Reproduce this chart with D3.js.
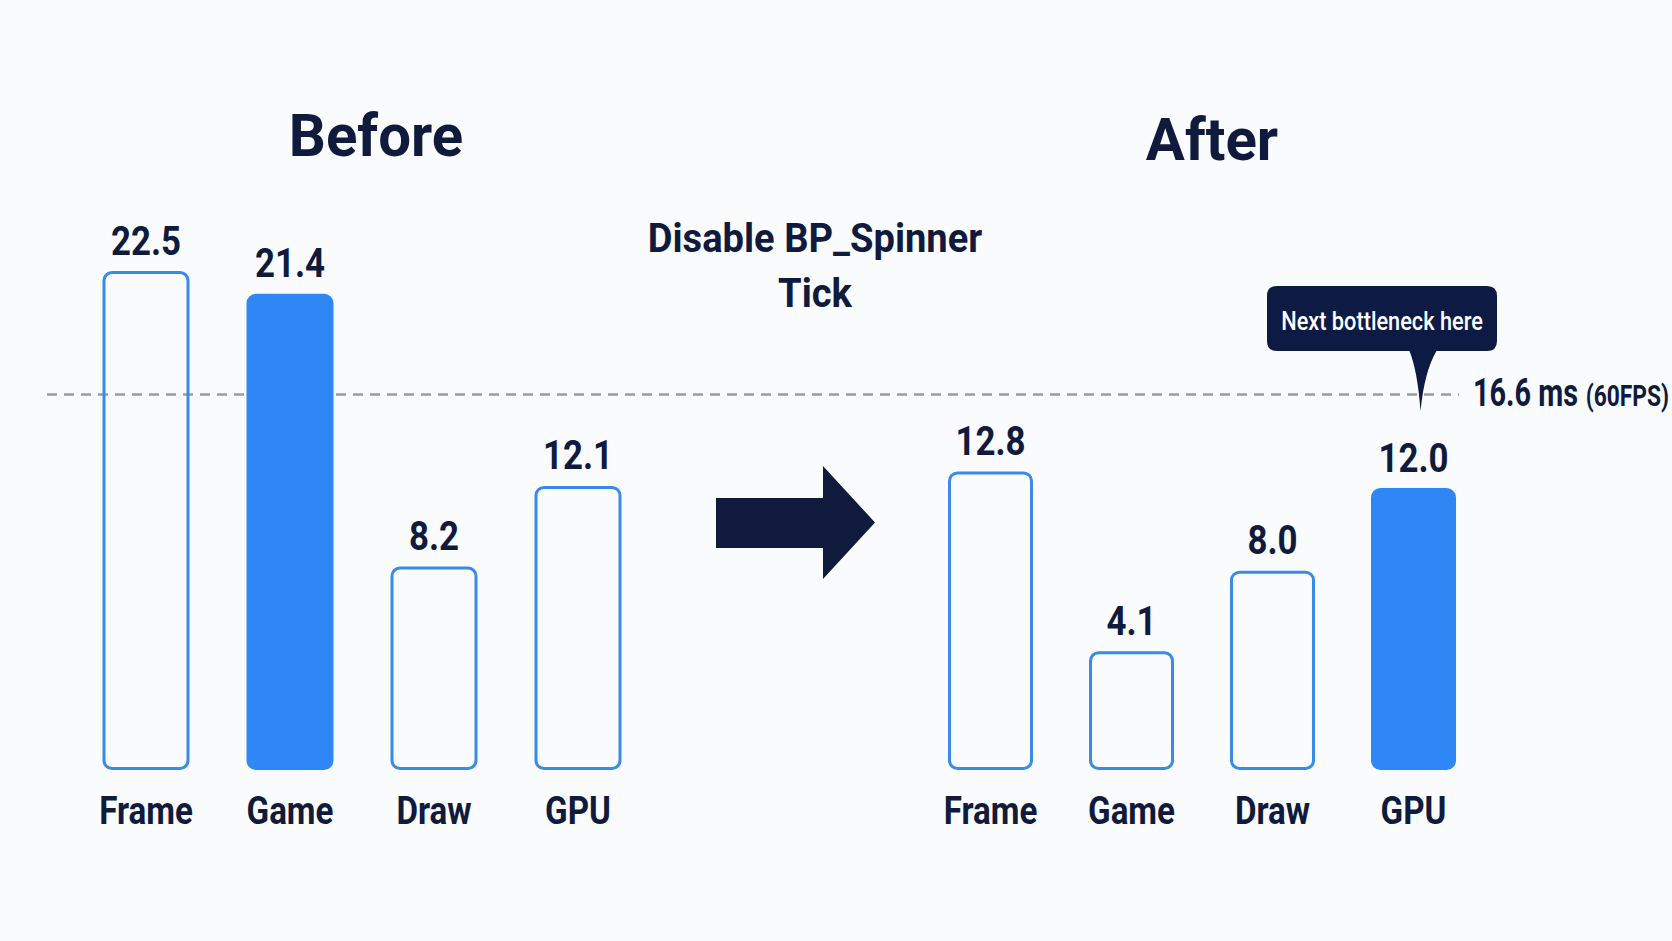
<!DOCTYPE html>
<html>
<head>
<meta charset="utf-8">
<script src="https://cdn.jsdelivr.net/npm/d3@7"></script>
<style>
  html, body { margin: 0; padding: 0; background: #fafbfc; }
  svg { display: block; font-family: Roboto, "Noto Sans", sans-serif; }
</style>
</head>
<body>
<script>
// Data
const categories = ['Frame', 'Game', 'Draw', 'GPU'];
const beforeValues = [22.5, 21.4, 8.2, 12.1];
const afterValues = [12.8, 4.1, 8.0, 12.0];
const beforeHighlight = 'Game';   // filled bar
const afterHighlight = 'GPU';
const targetMs = 16.6;
const targetLabel = '16.6 ms';
const targetNote = '(60FPS)';
const stepLabel = ['Disable BP_Spinner', 'Tick'];
const calloutText = 'Next bottleneck here';

const W = 1672, H = 941;
const ink = '#0f1a3c';
const blue = '#2f87f5';
const blueLine = '#3a8be6';
const squeeze = 0.85; // the type in the picture is a condensed face

const svg = d3.select('body').append('svg')
    .attr('width', W)
    .attr('height', H);

svg.append('rect').attr('width', W).attr('height', H).attr('fill', '#fafbfc');

// shared value scale, bars sit on 770
const y = d3.scaleLinear().domain([-1.5, 22.5]).range([768.5, 272.5]);
const baseY = y(-1.5);

const panels = [
    {title: 'Before', titleX: 376, titleY: 156, values: beforeValues, highlight: beforeHighlight,
     x: d3.scalePoint().domain(categories).range([146, 578]), barW: 84},
    {title: 'After', titleX: 1212, titleY: 160, values: afterValues, highlight: afterHighlight,
     x: d3.scalePoint().domain(categories).range([990.5, 1413.5]), barW: 82}
];

function squeezedText(g, x, yy, txt, size, sx, weight, fill, anchor) {
    return g.append('text')
        .attr('transform', `translate(${x},${yy}) scale(${sx},1)`)
        .attr('text-anchor', anchor || 'middle')
        .attr('font-size', size)
        .attr('font-weight', weight || 700)
        .attr('fill', fill || ink)
        .text(txt);
}

// threshold line goes under the bars
const lineY = y(targetMs);
svg.append('line')
    .attr('x1', 47).attr('x2', 1459)
    .attr('y1', lineY).attr('y2', lineY)
    .attr('stroke', '#9c9c9c')
    .attr('stroke-width', 2.6)
    .attr('stroke-dasharray', '10 7');

const lbl = svg.append('g');
squeezedText(lbl, 1473, lineY + 12, targetLabel, 38, 0.76, 700, ink, 'start')
    .append('tspan').attr('font-size', 30).attr('dx', 10).text(targetNote);

panels.forEach(p => {
    const g = svg.append('g');
    const rows = categories.map((c, i) => ({cat: c, value: p.values[i]}));

    squeezedText(g, p.titleX, p.titleY, p.title, 60, 0.97, 700);

    g.selectAll('rect.bar')
        .data(rows)
        .join('rect')
        .attr('class', 'bar')
        .attr('x', d => p.x(d.cat) - p.barW / 2)
        .attr('y', d => y(d.value))
        .attr('width', p.barW)
        .attr('height', d => baseY - y(d.value))
        .attr('rx', 8)
        .attr('fill', d => d.cat === p.highlight ? blue : 'none')
        .attr('stroke', d => d.cat === p.highlight ? blue : blueLine)
        .attr('stroke-width', 3);

    rows.forEach(d => {
        squeezedText(g, p.x(d.cat), y(d.value) - 18, d.value.toFixed(1), 41, squeeze, 700);
        squeezedText(g, p.x(d.cat), 824, d.cat, 39, squeeze, 700);
    });
});

// step caption + arrow between the panels
const cap = svg.append('g');
stepLabel.forEach((t, i) => squeezedText(cap, 815, 252 + i * 55, t, 41, 0.93, 700));

const arrow = d3.path();
arrow.moveTo(716, 498);
arrow.lineTo(823, 498);
arrow.lineTo(823, 466);
arrow.lineTo(875, 522.5);
arrow.lineTo(823, 579);
arrow.lineTo(823, 548);
arrow.lineTo(716, 548);
arrow.closePath();
svg.append('path').attr('d', arrow.toString()).attr('fill', ink);

// callout pointing at the after-GPU bar
const gpuX = panels[1].x(afterHighlight);
const bx0 = 1267, bx1 = 1497, by0 = 286, by1 = 351, r = 10;
const tipX = gpuX + 7, tipY = 411;
const c = d3.path();
c.moveTo(bx0 + r, by0);
c.lineTo(bx1 - r, by0);
c.quadraticCurveTo(bx1, by0, bx1, by0 + r);
c.lineTo(bx1, by1 - r);
c.quadraticCurveTo(bx1, by1, bx1 - r, by1);
c.lineTo(tipX + 16, by1);
c.quadraticCurveTo(tipX + 4, by1 + 20, tipX, tipY);
c.quadraticCurveTo(tipX - 3, by1 + 20, tipX - 11, by1);
c.lineTo(bx0 + r, by1);
c.quadraticCurveTo(bx0, by1, bx0, by1 - r);
c.lineTo(bx0, by0 + r);
c.quadraticCurveTo(bx0, by0, bx0 + r, by0);
c.closePath();
svg.append('path').attr('d', c.toString()).attr('fill', '#0c1a44');
squeezedText(svg, (bx0 + bx1) / 2, 330, calloutText, 25, 0.87, 500, '#ffffff');
</script>
</body>
</html>
